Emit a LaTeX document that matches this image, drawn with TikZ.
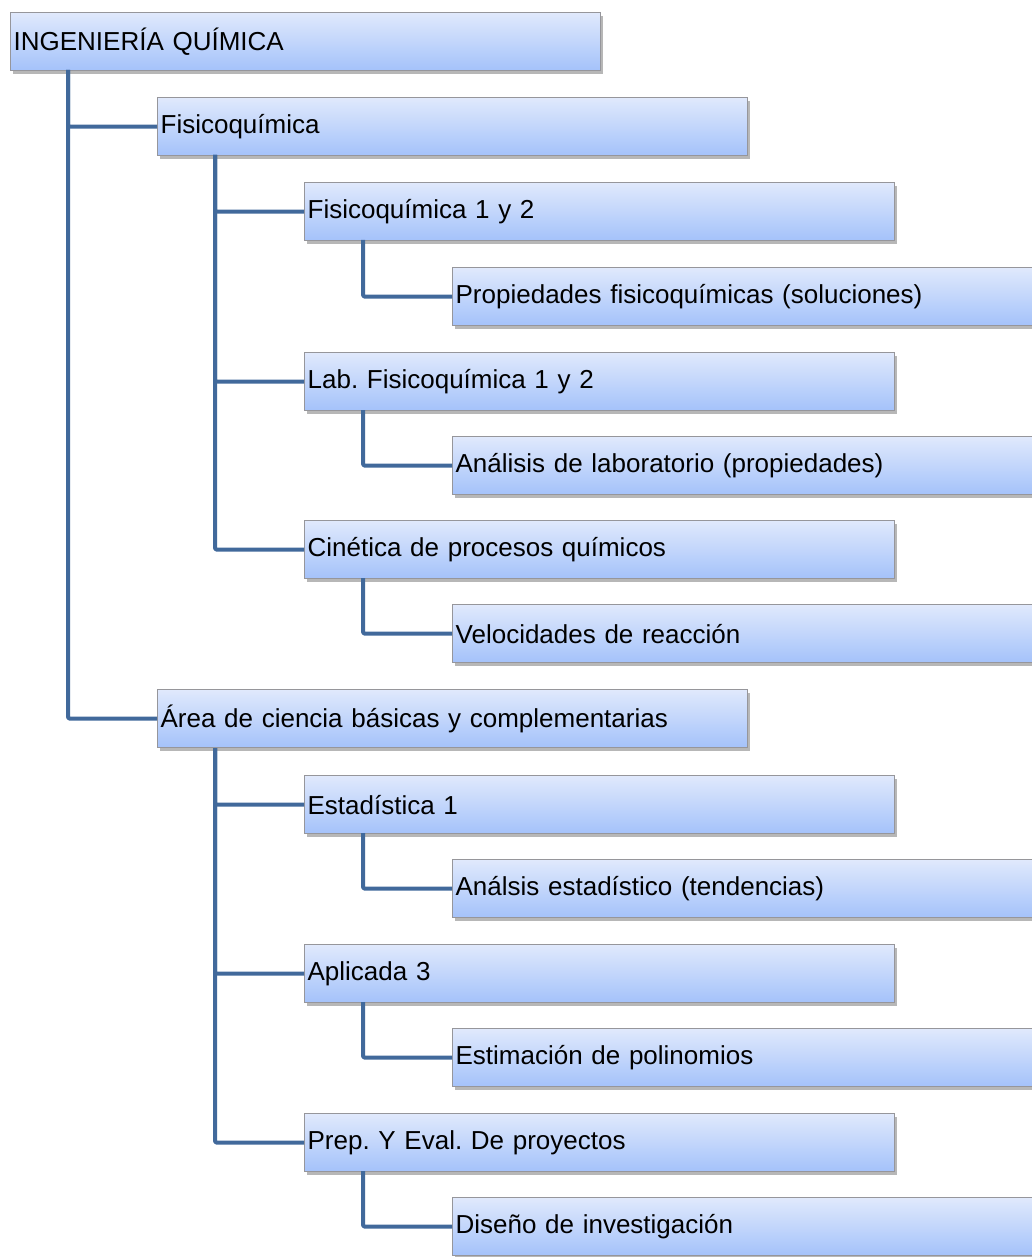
\documentclass[tikz,border=0pt]{standalone}
\usepackage{fontspec}
\setmainfont{Liberation Sans}
\usetikzlibrary{shadows}
\definecolor{boxtop}{RGB}{224,233,252}
\definecolor{boxbot}{RGB}{164,194,250}
\definecolor{boxline}{RGB}{150,150,155}
\definecolor{conncol}{RGB}{65,105,155}
\frenchspacing
\tikzset{
  box/.style={rectangle, anchor=north west, draw=boxline, line width=1.3pt,
    top color=boxtop, bottom color=boxbot,
    minimum width=590pt, minimum height=58pt, text width=584pt, align=left,
    inner xsep=2pt, inner ysep=0pt,
    font=\fontsize{26pt}{30pt}\selectfont\frenchspacing,
    drop shadow={shadow xshift=2.5pt, shadow yshift=-3pt, opacity=0.4, fill=black!70}},
  conn/.style={draw=conncol, line width=4pt, line join=round, rounded corners=2pt}
}
\begin{document}
\begin{tikzpicture}[x=1pt,y=-1pt]
\useasboundingbox (0,0) rectangle (1032,1257);
\clip (0,0) rectangle (1032,1257);
\coordinate (r) at (68,70);
\coordinate (f) at (215,155);
\coordinate (a) at (215,748);
\coordinate (f1) at (363,240);
\coordinate (f2) at (363,410);
\coordinate (f3) at (363,578);
\coordinate (a1) at (363,833);
\coordinate (a2) at (363,1002);
\coordinate (a3) at (363,1171);
% nodes
\node[box] (root) at (10,12) {INGENIERÍA QUÍMICA};
\node[box] (fis) at (157,97) {Fisicoquímica};
\node[box] (fis1) at (304,182) {Fisicoquímica 1 y 2};
\node[box] (prop) at (452,267) {Propiedades fisicoquímicas (soluciones)};
\node[box] (lab) at (304,352) {Lab. Fisicoquímica 1 y 2};
\node[box] (anlab) at (452,436) {Análisis de laboratorio (propiedades)};
\node[box] (cin) at (304,520) {Cinética de procesos químicos};
\node[box] (vel) at (452,604) {Velocidades de reacción};
\node[box] (area) at (157,689) {Área de ciencia básicas y complementarias};
\node[box] (est) at (304,775) {Estadística 1};
\node[box] (anest) at (452,859) {Análsis estadístico (tendencias)};
\node[box] (apl) at (304,944) {Aplicada 3};
\node[box] (estim) at (452,1028) {Estimación de polinomios};
\node[box] (prep) at (304,1113) {Prep. Y Eval. De proyectos};
\node[box] (dis) at (452,1197) {Diseño de investigación};
% connectors
\draw[conn] (r) |- (fis.west);
\draw[conn] (r) |- (area.west);
\draw[conn] (f) |- (fis1.west);
\draw[conn] (f) |- (lab.west);
\draw[conn] (f) |- (cin.west);
\draw[conn] (a) |- (est.west);
\draw[conn] (a) |- (apl.west);
\draw[conn] (a) |- (prep.west);
\draw[conn] (f1) |- (prop.west);
\draw[conn] (f2) |- (anlab.west);
\draw[conn] (f3) |- (vel.west);
\draw[conn] (a1) |- (anest.west);
\draw[conn] (a2) |- (estim.west);
\draw[conn] (a3) |- (dis.west);
\end{tikzpicture}
\end{document}
